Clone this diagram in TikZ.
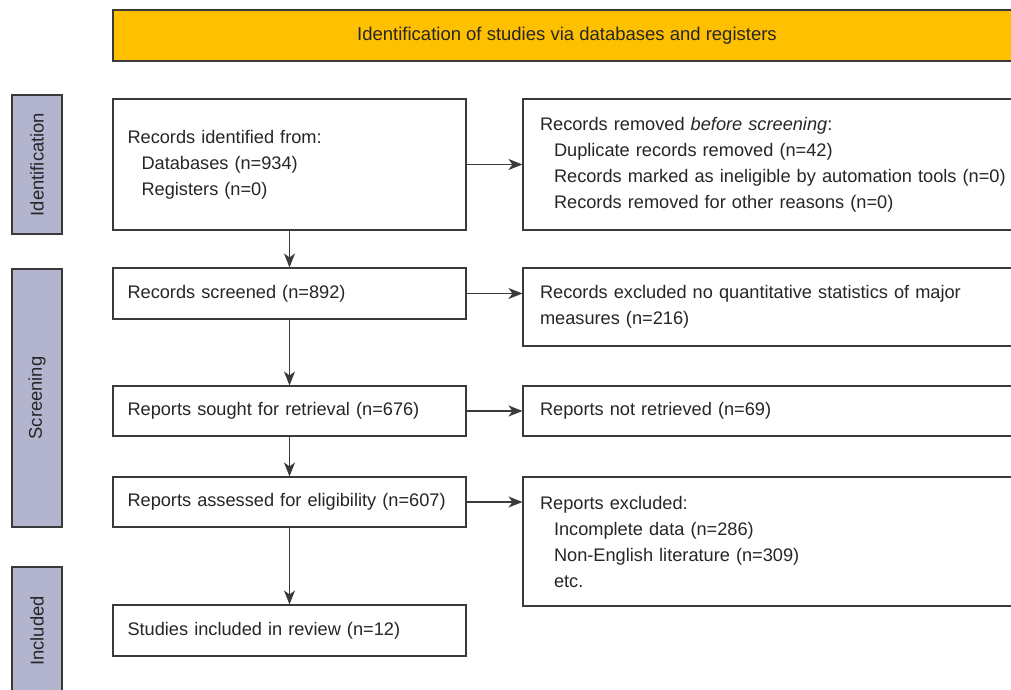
\documentclass[tikz,border=0pt]{standalone}
\usepackage{fontspec}
\setmainfont{Liberation Sans}
\usetikzlibrary{arrows.meta}
\definecolor{bannerYellow}{HTML}{FFC000}
\definecolor{phaseBlue}{HTML}{B3B5CF}
\definecolor{lineGray}{HTML}{3A3A3A}
\definecolor{textGray}{HTML}{262626}

\tikzset{
  box/.style={draw=lineGray, line width=1.1pt, fill=white, text=textGray, align=left, inner ysep=0pt, font=\fontsize{18.2}{26}\selectfont},
  leftbox/.style={box, inner xsep=14.5pt, text width=324pt, minimum width=353pt},
  rightbox/.style={box, inner xsep=17pt, text width=468pt, minimum width=502pt},
  phase/.style={draw=lineGray, line width=1.1pt, fill=phaseBlue, text=textGray, rotate=90, minimum height=50pt, inner sep=0pt, font=\fontsize{18.4}{22}\selectfont},
  flow/.style={draw=lineGray, line width=1.2pt, -{Stealth[length=14pt,width=11pt,inset=4pt]}}
}

\begin{document}
\begin{tikzpicture}[x=1pt,y=1pt,yscale=-1,xscale=1]

\useasboundingbox (0,0) rectangle (1011,690);
\clip (0,0) rectangle (1011,690);

% banner
\node [draw=lineGray, line width=1.1pt, fill=bannerYellow, text=textGray, minimum width=908pt, minimum height=51pt, inner sep=0pt, font=\fontsize{18.5}{22}\selectfont] (banner) at (567,35.5) {Identification of studies via databases and registers};

% phases
\node [phase, minimum width=139pt] (phId) at (37,164.5) {Identification};
\node [phase, minimum width=258pt] (phScr) at (37,398) {Screening};
\node [phase, minimum width=128pt] (phInc) at (37,631) {Included};

% left column
\node [leftbox, minimum height=131pt] (recId) at (289.5,164.5) {Records identified from:\\\hspace*{14pt}Databases (n=934)\\\hspace*{14pt}Registers (n=0)};
\node [leftbox, minimum height=51pt] (recScr) at (289.5,293.5) {Records screened (n=892)};
\node [leftbox, minimum height=50pt] (repSought) at (289.5,411) {Reports sought for retrieval (n=676)};
\node [leftbox, minimum height=50pt] (repAssess) at (289.5,502) {\mbox{Reports assessed for eligibility (n=607)}};
\node [leftbox, minimum height=51pt] (studInc) at (289.5,630.5) {Studies included in review (n=12)};

% right column
\node [rightbox, minimum height=131pt] (recRem) at (774,164.5) {Records removed \textit{before screening}:\\\hspace*{14pt}Duplicate records removed (n=42)\\\hspace*{14pt}\mbox{Records marked as ineligible by automation tools (n=0)}\\\hspace*{14pt}Records removed for other reasons (n=0)};
\node [rightbox, minimum height=78pt] (recExc) at (774,307) {Records excluded no quantitative statistics of major\\measures (n=216)};
\node [rightbox, minimum height=50pt] (repNot) at (774,411) {Reports not retrieved (n=69)};
\node [rightbox, minimum height=129pt] (repExc) at (774,541.5) {Reports excluded:\\\hspace*{14pt}Incomplete data (n=286)\\\hspace*{14pt}Non-English literature (n=309)\\\hspace*{14pt}etc.};

% arrows
\draw [flow] (recId) -- (recScr);
\draw [flow] (recScr) -- (repSought);
\draw [flow] (repSought) -- (repAssess);
\draw [flow] (repAssess) -- (studInc);
\draw [flow] (recId) -- (recRem);
\draw [flow] (recScr.east) -- (recScr.east -| recExc.west);
\draw [flow] (repSought) -- (repNot);
\draw [flow] (repAssess.east) -- (repAssess.east -| repExc.west);

\end{tikzpicture}
\end{document}
